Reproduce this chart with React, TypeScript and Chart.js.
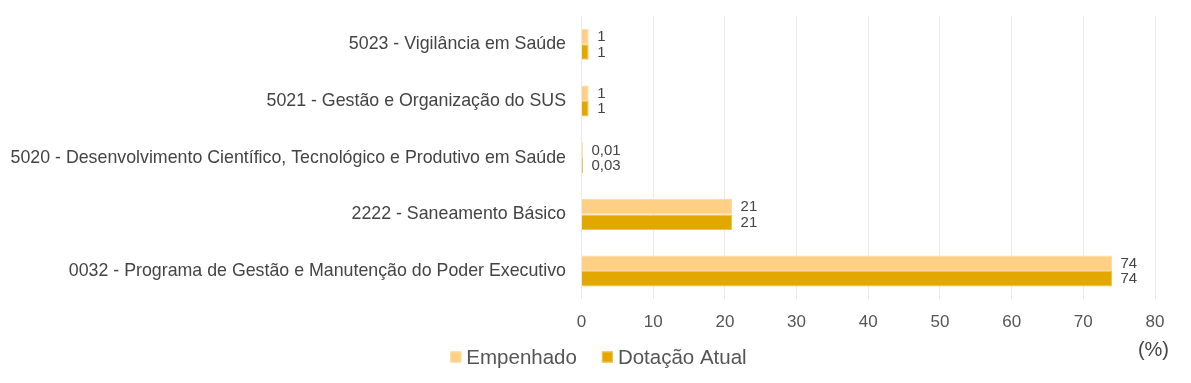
import React, { useEffect, useRef } from "react";
import { Chart, registerables } from "chart.js";

Chart.register(...registerables);

const categories = [
  "5023 - Vigilância em Saúde",
  "5021 - Gestão e Organização do SUS",
  "5020 - Desenvolvimento Científico, Tecnológico e Produtivo em Saúde",
  "2222 - Saneamento Básico",
  "0032 - Programa de Gestão e Manutenção do Poder Executivo",
];
const empenhado = [1, 1, 0.01, 21, 74];
const dotacaoAtual = [1, 1, 0.03, 21, 74];
const seriesNames = ["Empenhado", "Dotação Atual"];
const axisUnit = "(%)";

const FONT = "'Liberation Sans', Arial, Helvetica, sans-serif";

const fmt = (v: number) => v.toLocaleString("pt-BR", { maximumFractionDigits: 2 });

const labelsPlugin = {
  id: "valueLabels",
  afterDatasetsDraw(chart: any) {
    const ctx = chart.ctx;
    ctx.save();
    ctx.font = `15px ${FONT}`;
    ctx.fillStyle = "#444";
    ctx.textBaseline = "middle";
    ctx.textAlign = "left";
    chart.data.datasets.forEach((ds: any, di: number) => {
      const meta = chart.getDatasetMeta(di);
      meta.data.forEach((bar: any, i: number) => {
        const base = chart.scales.x.getPixelForValue(0);
        const x = Math.max(bar.x, base + 1);
        ctx.fillText(fmt(ds.data[i]), x + 8.5, bar.y + 0.5);
      });
    });
    const xs = chart.scales.x;
    ctx.font = `20px ${FONT}`;
    ctx.fillStyle = "#444";
    ctx.textAlign = "right";
    ctx.fillText(axisUnit, xs.right + 14, 350);

    // legend
    ctx.font = `20.5px ${FONT}`;
    ctx.textAlign = "left";
    const box = 11;
    const gapText = 5;
    const gapItem = 25;
    const items = chart.data.datasets.map((ds: any) => ({
      text: ds.label,
      color: ds.backgroundColor,
      border: ds.borderColor,
      w: ctx.measureText(ds.label).width,
    }));
    const total = items.reduce((s: number, it: any) => s + box + gapText + it.w, 0) + gapItem * (items.length - 1);
    let x = chart.width / 2 + 3 - total / 2;
    const cy = 357;
    items.forEach((it: any) => {
      ctx.fillStyle = it.color;
      ctx.fillRect(x, cy - box / 2, box, box);
      ctx.strokeStyle = it.border;
      ctx.lineWidth = 1;
      ctx.strokeRect(x + 0.5, cy - box / 2 + 0.5, box - 1, box - 1);
      x += box + gapText;
      ctx.fillStyle = "#555";
      ctx.fillText(it.text, x, cy + 1);
      x += it.w + gapItem;
    });
    ctx.restore();
  },
};

export default function App() {
  const ref = useRef<HTMLCanvasElement | null>(null);
  useEffect(() => {
    if (!ref.current) return;
    const chart = new Chart(ref.current, {
      type: "bar",
      data: {
        labels: categories,
        datasets: [
          {
            label: seriesNames[0],
            data: empenhado,
            backgroundColor: "#FED086",
            borderColor: "#FEDCA0",
            borderWidth: 1,
            minBarLength: 1.5,
            categoryPercentage: 0.547,
            barPercentage: 1,
          },
          {
            label: seriesNames[1],
            data: dotacaoAtual,
            backgroundColor: "#E3A800",
            borderColor: "#F0C450",
            borderWidth: 1,
            minBarLength: 1.5,
            categoryPercentage: 0.547,
            barPercentage: 1,
          },
        ],
      },
      options: {
        indexAxis: "y",
        animation: false,
        responsive: false,
        maintainAspectRatio: false,
        layout: { padding: { top: 16, right: 36, left: 0, bottom: 45.6 } },
        scales: {
          x: {
            min: 0,
            max: 80,
            ticks: { stepSize: 10, color: "#555", font: { family: FONT, size: 17 }, padding: 13 },
            grid: { color: "#e9e9e9", drawTicks: false },
            border: { display: false },
            afterFit(scale: any) {
              scale.height = 38;
            },
          },
          y: {
            ticks: { color: "#444", font: { family: FONT, size: 17.8 }, padding: 15.5 },
            grid: { display: false, drawTicks: false },
            border: { display: false },
            afterFit(scale: any) {
              scale.width = 581.5;
              scale.paddingTop = 0;
              scale.paddingBottom = 0;
            },
          },
        },
        plugins: {
          legend: { display: false },
          tooltip: { enabled: false },
        },
      },
      plugins: [labelsPlugin],
    });
    return () => chart.destroy();
  }, []);
  return (
    <div style={{ position: "fixed", left: 0, top: 0, width: 1191, height: 383, background: "#fff" }}>
      <canvas ref={ref} width={1191} height={383} />
    </div>
  );
}
